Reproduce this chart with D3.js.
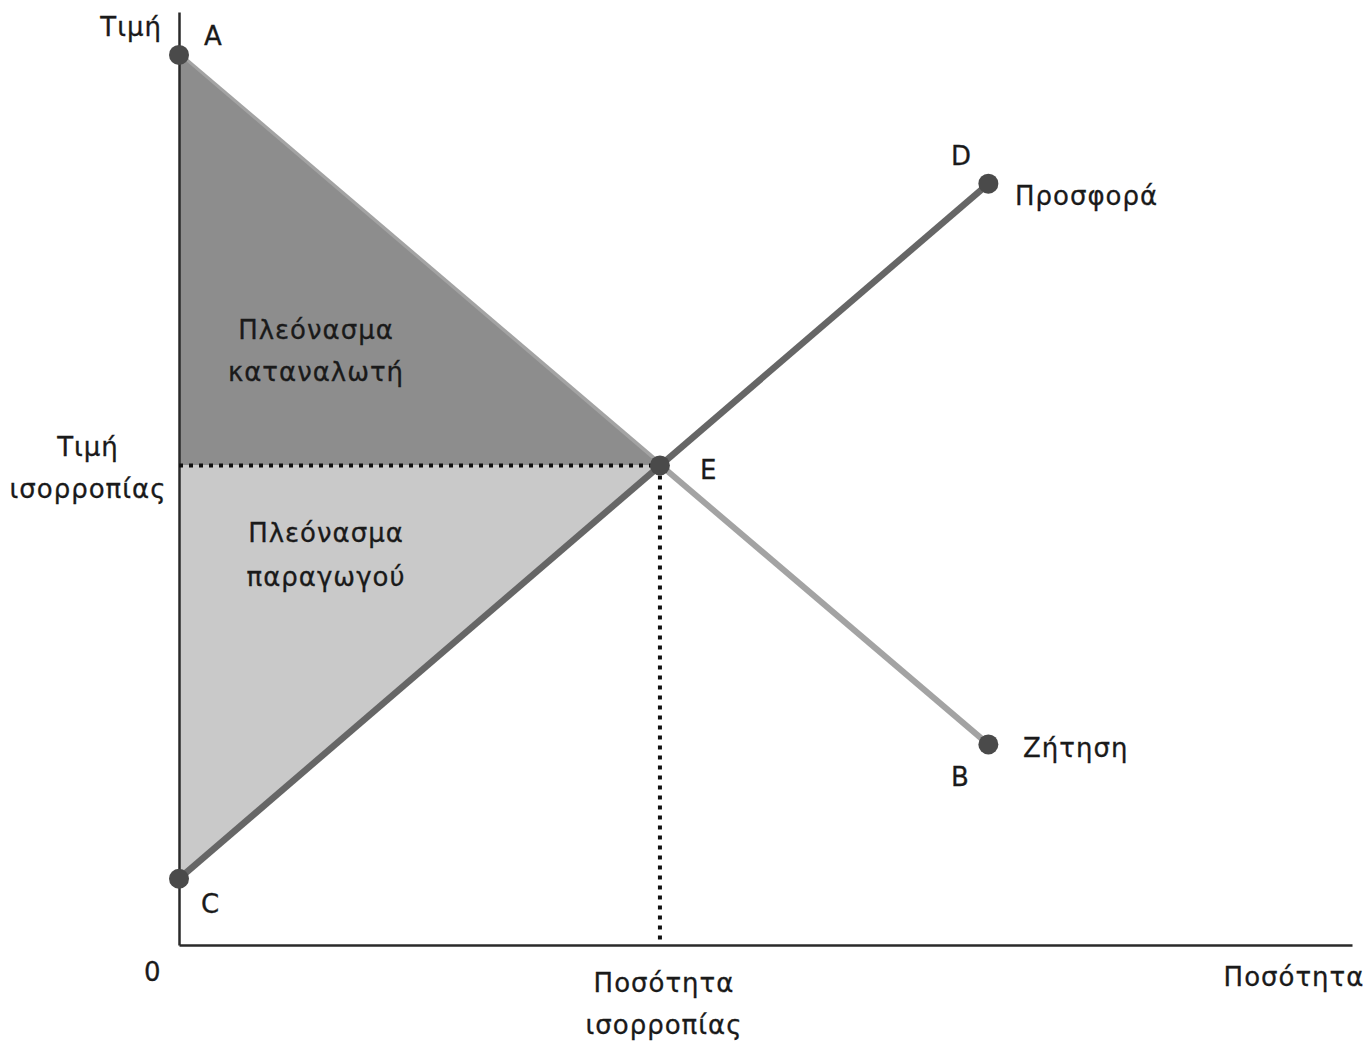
<!DOCTYPE html>
<html><head><meta charset="utf-8">
<script src="https://cdn.jsdelivr.net/npm/d3@7"></script>
<style>html,body{margin:0;padding:0;background:#fff;}svg{display:block;}</style>
</head><body>
<svg id="chart" width="1366" height="1041"></svg>
<script>
// Data (arbitrary units)
const equilibrium = {q: 4.92, p: 5.14};
const supplyPoints = [{name: "C", q: 0, p: 0.71}, {name: "D", q: 8.28, p: 8.16}];
const demandPoints = [{name: "A", q: 0, p: 9.54}, {name: "B", q: 8.28, p: 2.15}];
const consumerSurplus = [{q: 0, p: 9.54}, {q: 4.92, p: 5.14}, {q: 0, p: 5.14}];
const producerSurplus = [{q: 0, p: 5.14}, {q: 4.92, p: 5.14}, {q: 0, p: 0.71}];
const xDomain = [0, 12];
const yDomain = [0, 10];

const svg = d3.select("#chart");
const FONT = "DejaVu Sans";
const x = d3.scaleLinear().domain(xDomain).range([179, 1352]);
const y = d3.scaleLinear().domain(yDomain).range([945, 12]);
const line = d3.line().x(d => x(d.q)).y(d => y(d.p));

// Demand line (under the consumer-surplus fill edge)
svg.append("path").attr("d", line(demandPoints)).attr("stroke", "#a3a3a3").attr("stroke-width", 6).attr("fill", "none");

// Surplus areas
svg.append("path").attr("d", line(consumerSurplus) + "Z").attr("fill", "#8d8d8d");
svg.append("path").attr("d", line(producerSurplus) + "Z").attr("fill", "#c9c9c9");

// Axes
const xAxis = d3.axisBottom(x).tickValues([]).tickSizeOuter(0);
const yAxis = d3.axisLeft(y).tickValues([]).tickSizeOuter(0);
svg.append("g").attr("transform", `translate(0,${y(0)})`).call(xAxis)
  .select(".domain").attr("stroke", "#2a2a2a").attr("stroke-width", 2.5);
svg.append("g").attr("transform", `translate(${x(0)},0)`).call(yAxis)
  .select(".domain").attr("stroke", "#2a2a2a").attr("stroke-width", 2.5);

// Dotted guide lines
svg.append("path").attr("d", line([{q: 0, p: equilibrium.p}, equilibrium]))
  .attr("stroke", "#111").attr("stroke-width", 4).attr("stroke-dasharray", "4 6").attr("fill", "none");
svg.append("path").attr("d", line([equilibrium, {q: equilibrium.q, p: 0}]))
  .attr("stroke", "#111").attr("stroke-width", 4).attr("stroke-dasharray", "4 6").attr("fill", "none");

// Supply line
svg.append("path").attr("d", line(supplyPoints)).attr("stroke", "#666").attr("stroke-width", 6.5).attr("fill", "none");

// Points
const pts = [...demandPoints, ...supplyPoints, {name: "E", q: equilibrium.q, p: equilibrium.p}];
svg.selectAll("circle.pt").data(pts).enter().append("circle")
  .attr("cx", d => x(d.q)).attr("cy", d => y(d.p)).attr("r", 10)
  .attr("fill", "#4a4a4a");

// Text
function txt(t, px, py, anchor) {
  svg.append("text").attr("x", px).attr("y", py).attr("text-anchor", anchor || "start")
    .attr("font-family", FONT).attr("font-size", 26).attr("letter-spacing", 1)
    .attr("fill", "#1a1a1a").attr("stroke", "#1a1a1a").attr("stroke-width", 0.3).text(t);
}
txt("Τιμή", 162, 36, "end");
txt("A", 204, 45);
txt("Πλεόνασμα", 316, 339, "middle");
txt("καταναλωτή", 316, 381, "middle");
txt("Τιμή", 88, 456, "middle");
txt("ισορροπίας", 88, 498, "middle");
txt("Πλεόνασμα", 326, 542, "middle");
txt("παραγωγού", 326, 586, "middle");
txt("E", 700, 479);
txt("D", 951, 165);
txt("Προσφορά", 1015, 205);
txt("Ζήτηση", 1023, 757);
txt("B", 951, 786);
txt("C", 201, 913);
txt("0", 144, 981);
txt("Ποσότητα", 664, 992, "middle");
txt("ισορροπίας", 664, 1034, "middle");
txt("Ποσότητα", 1294, 986, "middle");
</script>
</body></html>
